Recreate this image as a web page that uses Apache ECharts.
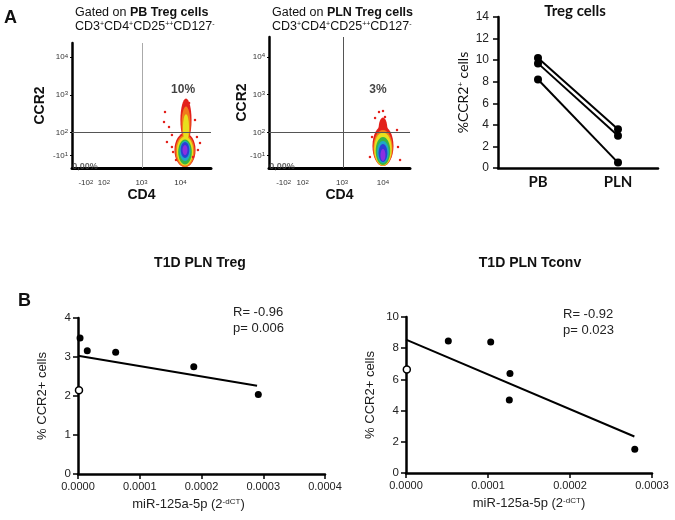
<!DOCTYPE html>
<html>
<head>
<meta charset="utf-8">
<script src="https://cdn.jsdelivr.net/npm/echarts@6/dist/echarts.min.js"></script>
<style>html,body{margin:0;padding:0;background:#fff}#chart{width:675px;height:520px}</style>
</head>
<body>
<div id="chart"></div>
<script>
// ---- A: flow plots, axes in display channel units
var flowXTicks = [100, 230, 500, 780];
var flowXLabels = ['-10^2', '10^2', '10^3', '10^4'];
var flowYTicks = [120, 300, 600, 900];
var flowYLabels = ['-10^1', '10^2', '10^3', '10^4'];
var gateX = 507, gateY = 304;

// density levels, outer -> inner
var levelColors = ['#e3201b', '#f07a1c', '#e8df1e', '#38b447', '#1fa8c6', '#2b3fd4', '#8b2fe0'];
// contour layers [x, y, rx, ry, level]
var cloudPB = [
	[820, 400, 40, 170, 0], [813, 162, 76, 135, 0],
	[820, 368, 32, 140, 1], [813, 155, 69, 127, 1],
	[820, 337, 22, 108, 2], [813, 155, 59, 115, 2],
	[813, 147, 49, 99, 3], [813, 155, 39, 79, 4],
	[813, 162, 31, 63, 5], [813, 162, 18, 40, 6]
];
var cloudPLN = [
	[780, 330, 30, 90, 0], [780, 194, 72, 158, 0],
	[780, 178, 66, 143, 1], [780, 170, 60, 131, 2],
	[780, 155, 50, 111, 3], [780, 147, 40, 87, 4],
	[780, 139, 30, 71, 5], [780, 123, 17, 48, 6]
];
// loose events around the clouds
var dotsPB = [[669, 463], [662, 384], [698, 345], [683, 226], [719, 186], [727, 147], [899, 265], [906, 163],
	[870, 107], [842, 535], [813, 519], [719, 281], [921, 218], [748, 83], [885, 400]];
var dotsPLN = [[753, 463], [780, 471], [726, 416], [876, 321], [705, 265], [883, 186], [691, 107], [897, 83], [794, 424]];
var quadPB = ['10%', '0,00%'];
var quadPLN = ['3%', '0,00%'];

// ---- A: Treg cells paired
var tregCats = ['PB', 'PLN'];
var tregPairs = [[10.2, 3.6], [9.7, 3.0], [8.2, 0.5]];

// ---- B: correlations
var bTregFilled = [[0.0000033, 3.49], [0.000015, 3.16], [0.000061, 3.12], [0.0001875, 2.75], [0.000292, 2.04]];
var bTregOpen = [[0.0000016, 2.15]];
var bTregFit = [[0, 3.03], [0.00029, 2.26]];
var bTconvFilled = [[0.0000516, 8.46], [0.0001033, 8.40], [0.0001268, 6.38], [0.000126, 4.68], [0.000279, 1.53]];
var bTconvOpen = [[0.000001, 6.64]];
var bTconvFit = [[0, 8.55], [0.0002785, 2.34]];

var ff = '"Liberation Sans", Arial, sans-serif';
var cal = 'Lato, "Open Sans", sans-serif';

function sup(str){
	var p = str.split('^');
	return '{a|' + p[0] + '}{s|' + p[1] + '}';
}
var flowRich = {
	a: {fontFamily: ff, fontSize: 8, color: '#333'},
	s: {fontFamily: ff, fontSize: 6, color: '#333', verticalAlign: 'top'}
};

function flowX(grid, max){
	return {
		type: 'value', gridIndex: grid, min: 0, max: max,
		name: 'CD4', nameLocation: 'middle', nameGap: 20, nameMoveOverlap: false,
		nameTextStyle: {fontFamily: ff, fontSize: 14, fontWeight: 'bold', color: '#111'},
		axisLine: {show: true, onZero: false, lineStyle: {color: '#000', width: 3}},
		axisTick: {show: true, customValues: flowXTicks, length: 2, lineStyle: {color: '#000'}},
		axisLabel: {customValues: flowXTicks, margin: 11, rich: flowRich,
			formatter: function(v){ return sup(flowXLabels[flowXTicks.indexOf(v)]); }},
		splitLine: {show: false}
	};
}
function flowY(grid, max, gap){
	return {
		type: 'value', gridIndex: grid, min: 20, max: max,
		name: 'CCR2', nameLocation: 'middle', nameGap: gap, nameMoveOverlap: false,
		nameTextStyle: {fontFamily: ff, fontSize: 14, fontWeight: 'bold', color: '#111'},
		axisLine: {show: true, onZero: false, lineStyle: {color: '#000', width: 2.5}},
		axisTick: {show: true, customValues: flowYTicks, length: 2, lineStyle: {color: '#000'}},
		axisLabel: {customValues: flowYTicks, margin: 4, rich: flowRich,
			formatter: function(v){ return sup(flowYLabels[flowYTicks.indexOf(v)]); }},
		splitLine: {show: false}
	};
}
function cloudSeries(idx, data){
	return {
		type: 'custom', xAxisIndex: idx, yAxisIndex: idx, clip: true, z: 2, silent: true,
		renderItem: function(params, api){
			var c = api.coord([api.value(0), api.value(1)]);
			var s = api.size([api.value(2), api.value(3)]);
			return {type: 'ellipse', shape: {cx: c[0], cy: c[1], rx: s[0], ry: s[1]},
				style: {fill: levelColors[api.value(4)]}};
		},
		data: data
	};
}
function dotSeries(idx, data, vColor){
	return {
		type: 'scatter', xAxisIndex: idx, yAxisIndex: idx, z: 3, silent: true,
		symbolSize: 2.5, itemStyle: {color: '#e3201b', opacity: 1}, data: data,
		markLine: {
			silent: true, symbol: 'none', label: {show: false}, animation: false,
			data: [
				{xAxis: gateX, lineStyle: {color: vColor, width: 1, type: 'solid', opacity: 1}},
				{yAxis: gateY, lineStyle: {color: '#555', width: 1, type: 'solid', opacity: 1}}
			]
		}
	};
}
function quadSeries(idx, pos, texts){
	return {
		type: 'scatter', xAxisIndex: idx, yAxisIndex: idx, z: 4, silent: true, symbolSize: 0,
		data: [
			{value: pos[0], label: {formatter: texts[0], fontSize: 12, color: '#111'}},
			{value: pos[1], label: {formatter: texts[1], fontSize: 9, color: '#444'}}
		],
		label: {show: true, position: 'inside', fontFamily: ff, fontWeight: 'bold'}
	};
}

function bX(grid, max, shift){
	return {
		type: 'value', gridIndex: grid, min: 0, max: max, interval: 0.0001,
		name: 'miR-125a-5p (2{s|-dCT})', nameLocation: 'middle', nameGap: 24, nameMoveOverlap: false,
		nameTextStyle: {fontFamily: ff, fontSize: 13, color: '#222', padding: [0, shift, 0, 0],
			rich: {s: {fontFamily: ff, fontSize: 8, color: '#222', verticalAlign: 'top'}}},
		axisLine: {show: true, onZero: false, lineStyle: {color: '#000', width: 2.5}},
		axisTick: {show: true, length: 5, lineStyle: {color: '#000', width: 1.5}},
		axisLabel: {margin: 7, fontFamily: ff, fontSize: 11, color: '#222',
			formatter: function(v){ return v.toFixed(4); }},
		splitLine: {show: false}
	};
}
function bY(grid, max, step){
	return {
		type: 'value', gridIndex: grid, min: 0, max: max, interval: step,
		name: '% CCR2+ cells', nameLocation: 'middle', nameGap: 29, nameMoveOverlap: false,
		nameTextStyle: {fontFamily: ff, fontSize: 13, color: '#1a1a1a'},
		axisLine: {show: true, onZero: false, lineStyle: {color: '#000', width: 2.5}},
		axisTick: {show: true, length: 5, lineStyle: {color: '#000', width: 1.5}},
		axisLabel: {margin: 7, fontFamily: ff, fontSize: 11.5, color: '#222'},
		splitLine: {show: false}
	};
}
function bSeries(idx, filled, open, fit){
	return [
		{type: 'line', xAxisIndex: idx, yAxisIndex: idx, data: fit, showSymbol: false, silent: true,
			lineStyle: {color: '#000', width: 2}, z: 2},
		{type: 'scatter', xAxisIndex: idx, yAxisIndex: idx, data: filled, symbolSize: 7, silent: true,
			itemStyle: {color: '#000', opacity: 1}, z: 3},
		{type: 'scatter', xAxisIndex: idx, yAxisIndex: idx, data: open, symbolSize: 7, silent: true,
			itemStyle: {color: '#fff', borderColor: '#000', borderWidth: 1.5, opacity: 1}, z: 3}
	];
}

var series = [
	cloudSeries(0, cloudPB), dotSeries(0, dotsPB, '#aaa'), quadSeries(0, [[799, 638], [94, 28]], quadPB),
	cloudSeries(1, cloudPLN), dotSeries(1, dotsPLN, '#555'), quadSeries(1, [[746, 638], [89, 28]], quadPLN)
];
tregPairs.map(function(p){
	series.push({type: 'line', xAxisIndex: 2, yAxisIndex: 2, data: p, symbol: 'circle', symbolSize: 8,
		silent: true, itemStyle: {color: '#000', opacity: 1}, lineStyle: {color: '#000', width: 2}});
});
series = series.concat(bSeries(3, bTregFilled, bTregOpen, bTregFit), bSeries(4, bTconvFilled, bTconvOpen, bTconvFit));

// free text, anchored at (x, y) with vertical middle
function txt(x, y, text, size, weight, extra){
	var o = {type: 'text', x: x, y: y, silent: true,
		style: {text: text, fontFamily: ff, fontSize: size, fontWeight: weight || 'normal', fill: '#111',
			textAlign: 'left', textVerticalAlign: 'middle', verticalAlign: 'middle'}};
	if (extra) { for (var k in extra) o.style[k] = extra[k]; }
	return o;
}
var titleRich = {
	b: {fontFamily: ff, fontSize: 12.5, fontWeight: 'bold', fill: '#111'},
	s: {fontFamily: ff, fontSize: 7, fill: '#111', verticalAlign: 'top'}
};

var option = {
	animation: false,
	backgroundColor: '#fff',
	grid: [
		{left: 72, top: 43, width: 139, height: 125, outerBoundsMode: 'none'},
		{left: 269, top: 37, width: 141, height: 131, outerBoundsMode: 'none'},
		{left: 498, top: 17, width: 160, height: 151, outerBoundsMode: 'none'},
		{left: 78, top: 318, width: 247, height: 156, outerBoundsMode: 'none'},
		{left: 406, top: 317, width: 246, height: 156, outerBoundsMode: 'none'}
	],
	xAxis: [
		flowX(0, 1000), flowX(1, 965),
		{type: 'category', gridIndex: 2, data: tregCats,
			axisLine: {show: true, onZero: false, lineStyle: {color: '#000', width: 2.5}},
			axisTick: {show: false},
			axisLabel: {margin: 7, fontFamily: cal, fontSize: 15, fontWeight: 'bold', color: '#111'}},
		bX(3, 0.0004, 26), bX(4, 0.0003, 0)
	],
	yAxis: [
		flowY(0, 1010, 25), flowY(1, 1057, 20),
		{type: 'value', gridIndex: 2, min: 0, max: 14, interval: 2,
			name: '%CCR2{s|+} cells', nameLocation: 'middle', nameGap: 28, nameMoveOverlap: false,
			nameTextStyle: {fontFamily: cal, fontSize: 14, color: '#111',
				rich: {s: {fontFamily: cal, fontSize: 8, color: '#111', verticalAlign: 'top'}}},
			axisLine: {show: true, onZero: false, lineStyle: {color: '#000', width: 2.5}},
			axisTick: {show: true, length: 5, lineStyle: {color: '#000', width: 1.5}},
			axisLabel: {margin: 9, fontFamily: ff, fontSize: 12, color: '#222'},
			splitLine: {show: false}},
		bY(3, 4, 1), bY(4, 10, 2)
	],
	graphic: [
		txt(4, 18, 'A', 18, 'bold'),
		txt(18, 301, 'B', 18, 'bold'),
		txt(75, 13, 'Gated on {b|PB Treg cells}', 12.5, 'normal', {rich: titleRich}),
		txt(75, 27, 'CD3{s|+}CD4{s|+}CD25{s|++}CD127{s|-}', 12.5, 'normal', {rich: titleRich}),
		txt(272, 13, 'Gated on {b|PLN Treg cells}', 12.5, 'normal', {rich: titleRich}),
		txt(272, 27, 'CD3{s|+}CD4{s|+}CD25{s|++}CD127{s|-}', 12.5, 'normal', {rich: titleRich}),
		txt(575, 11, 'Treg cells', 15, 'bold', {fontFamily: cal, textAlign: 'center', align: 'center'}),
		txt(200, 263, 'T1D PLN Treg', 14, 'bold', {textAlign: 'center', align: 'center'}),
		txt(530, 263, 'T1D PLN Tconv', 14, 'bold', {textAlign: 'center', align: 'center'}),
		txt(233, 312, 'R= -0.96', 13, 'normal', {fill: '#222'}),
		txt(233, 328, 'p= 0.006', 13, 'normal', {fill: '#222'}),
		txt(563, 314, 'R= -0.92', 13, 'normal', {fill: '#222'}),
		txt(563, 330, 'p= 0.023', 13, 'normal', {fill: '#222'})
	],
	series: series
};

var myChart = echarts.init(document.getElementById('chart'));
myChart.setOption(option);
</script>
</body>
</html>
